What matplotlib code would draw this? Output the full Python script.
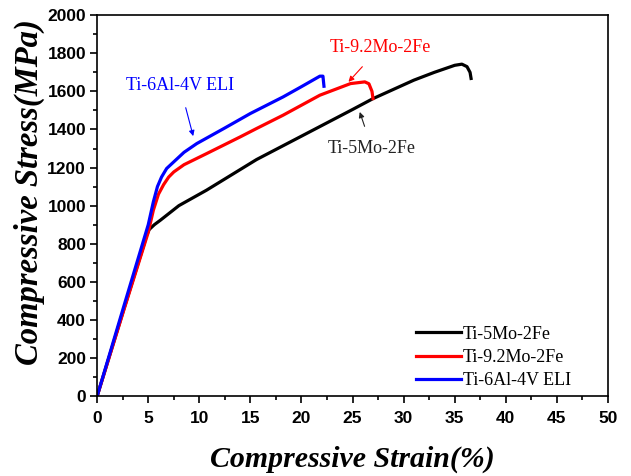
import matplotlib
matplotlib.use("Agg")
import matplotlib.pyplot as plt
from matplotlib.ticker import MultipleLocator

# curves: strain (%) vs stress (MPa)
strain_5mo = [0, 2.6, 4.6, 4.8, 5.1, 5.6, 6.2, 8, 10.7, 15.6, 20, 25, 27, 31, 33, 35, 35.7, 36.2, 36.5, 36.6]
stress_5mo = [0, 455, 800, 840, 875, 900, 924, 1000, 1081, 1242, 1365, 1505, 1562, 1659, 1700, 1737, 1743, 1730, 1700, 1668]

strain_92mo = [0, 2.6, 5.0, 5.5, 6.0, 6.5, 7.0, 7.5, 8.5, 10.7, 14, 15.6, 18.2, 21.8, 24.8, 26.2, 26.6, 26.9, 27.0]
stress_92mo = [0, 450, 860, 976, 1060, 1110, 1150, 1177, 1215, 1273, 1361, 1405, 1475, 1580, 1641, 1650, 1640, 1600, 1562]

strain_64 = [0, 2.6, 5.0, 5.5, 5.9, 6.3, 6.8, 7.5, 8.5, 9.75, 12.4, 15, 18.2, 20, 21.8, 22.1, 22.2]
stress_64 = [0, 470, 900, 1020, 1100, 1150, 1195, 1230, 1280, 1326, 1405, 1484, 1571, 1625, 1680, 1680, 1627]

labels = ["Ti-5Mo-2Fe", "Ti-9.2Mo-2Fe", "Ti-6Al-4V ELI"]
colors = ["black", "red", "blue"]

serif = "Liberation Serif"
sans = "Liberation Sans"

fig = plt.figure(figsize=(6.31, 4.76), dpi=100)
ax = fig.add_axes([0.154, 0.168, 0.8095, 0.80])

ax.plot(strain_5mo, stress_5mo, color=colors[0], lw=2.3, label=labels[0])
ax.plot(strain_92mo, stress_92mo, color=colors[1], lw=2.3, label=labels[1])
ax.plot(strain_64, stress_64, color=colors[2], lw=2.3, label=labels[2])

ax.set_xlim(0, 50)
ax.set_ylim(0, 2000)
ax.xaxis.set_major_locator(MultipleLocator(5))
ax.xaxis.set_minor_locator(MultipleLocator(2.5))
ax.yaxis.set_major_locator(MultipleLocator(200))
ax.yaxis.set_minor_locator(MultipleLocator(100))
ax.tick_params(which="major", direction="out", length=5, width=1.2, labelsize=12.5, pad=3)
ax.tick_params(axis="x", which="major", pad=6)
ax.tick_params(which="minor", direction="out", length=3, width=1.2)
for t in ax.get_xticklabels() + ax.get_yticklabels():
    t.set_fontfamily(sans)
    t.set_fontweight("bold")
for s in ax.spines.values():
    s.set_linewidth(1.2)

ax.set_xlabel("Compressive Strain(%)", fontfamily=serif, fontstyle="italic",
              fontweight="bold", fontsize=21.5)
ax.xaxis.set_label_coords(0.50, -0.13)
ax.set_ylabel("Compressive Stress(MPa)", fontfamily=serif, fontstyle="italic",
              fontweight="bold", fontsize=23.5)
ax.yaxis.set_label_coords(-0.102, 0.535)

# annotations
ax.annotate("Ti-6Al-4V ELI", xy=(9.4, 1365), xytext=(8.1, 1630), color="blue",
            fontfamily=serif, fontsize=13, ha="center", va="center",
            arrowprops=dict(arrowstyle="-|>", color="blue", lw=0.8,
                            shrinkA=8, shrinkB=0, mutation_scale=8))
ax.annotate("Ti-9.2Mo-2Fe", xy=(24.6, 1650), xytext=(27.7, 1832), color="red",
            fontfamily=serif, fontsize=13, ha="center", va="center",
            arrowprops=dict(arrowstyle="-|>", color="red", lw=0.8,
                            shrinkA=8, shrinkB=0, mutation_scale=8))
ax.annotate("Ti-5Mo-2Fe", xy=(25.7, 1492), xytext=(26.9, 1302), color="#222222",
            fontfamily=serif, fontsize=13, ha="center", va="center",
            arrowprops=dict(arrowstyle="-|>", color="#222222", lw=0.8,
                            shrinkA=8, shrinkB=0, mutation_scale=8))

leg = ax.legend(loc="lower right", frameon=False, prop={"family": serif, "size": 13},
                handlelength=2.5, handletextpad=0.1, labelspacing=0.35,
                bbox_to_anchor=(0.96, -0.025))

fig.savefig("out.png", dpi=100)
